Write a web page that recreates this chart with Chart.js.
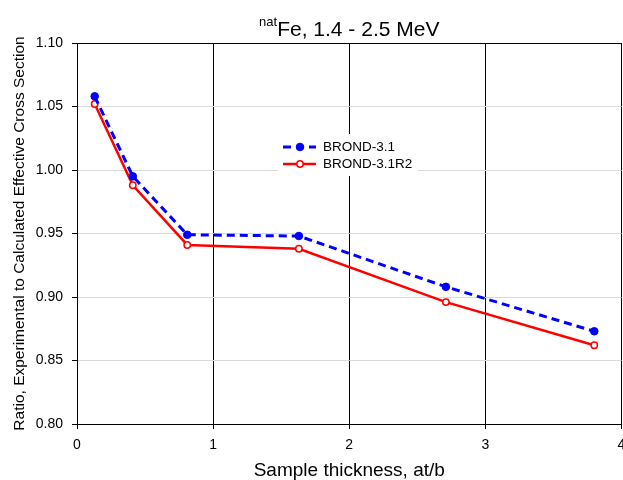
<!DOCTYPE html>
<html>
<head>
<meta charset="utf-8">
<script src="https://cdn.jsdelivr.net/npm/chart.js@4/dist/chart.umd.min.js"></script>
<style>
  html, body { margin: 0; padding: 0; background: #ffffff; }
  #wrap { width: 623px; height: 480px; }
</style>
</head>
<body>
<div id="wrap"><canvas id="c" width="623" height="480"></canvas></div>
<script>
// ---- Data ----
const thickness = [0.13, 0.41, 0.81, 1.63, 2.71, 3.80];      // at/b
const brond31   = [1.058, 0.995, 0.949, 0.948, 0.908, 0.873];
const brond31R2 = [1.052, 0.988, 0.941, 0.938, 0.896, 0.862];
const seriesNames = ['BROND-3.1', 'BROND-3.1R2'];
const titleSup = 'nat';
const titleMain = 'Fe, 1.4 - 2.5 MeV';
const xTitle = 'Sample thickness, at/b';
const yTitle = 'Ratio, Experimental to Calculated Effective Cross Section';
const xRange = [0, 4], xStep = 1;
const yRange = [0.80, 1.10], yStep = 0.05;

const FONT = "'Liberation Sans', Arial, sans-serif";
Chart.defaults.font.family = FONT;
Chart.defaults.color = '#000';

const toPts = (ys) => ys.map((y, i) => ({ x: thickness[i], y }));

const titlePlugin = {
  id: 'supTitle',
  afterDraw(chart) {
    const ctx = chart.ctx, ca = chart.chartArea;
    ctx.save();
    ctx.fillStyle = '#000';
    ctx.textBaseline = 'alphabetic';
    ctx.textAlign = 'left';
    ctx.font = '13px ' + FONT;
    const wSup = ctx.measureText(titleSup).width;
    ctx.font = '21px ' + FONT;
    const wMain = ctx.measureText(titleMain).width;
    const x0 = (ca.left + ca.right) / 2 - (wSup + wMain) / 2;
    ctx.font = '13px ' + FONT;
    ctx.fillText(titleSup, x0, 26);
    ctx.font = '21px ' + FONT;
    ctx.fillText(titleMain, x0 + wSup, 36);
    ctx.restore();
  }
};

const legendPlugin = {
  id: 'boxLegend',
  afterDraw(chart) {
    const ctx = chart.ctx;
    const bx = 278, by = 134, bw = 140, bh = 42;
    ctx.save();
    ctx.fillStyle = '#fff';
    ctx.fillRect(bx, by, bw, bh);
    const rows = [
      { y: 147, ds: chart.data.datasets[0] },
      { y: 164, ds: chart.data.datasets[1] }
    ];
    rows.forEach(r => {
      const ds = r.ds;
      ctx.strokeStyle = ds.borderColor;
      ctx.lineWidth = ds.borderWidth;
      ctx.setLineDash(ds.borderDash || []);
      ctx.beginPath();
      ctx.moveTo(283, r.y);
      ctx.lineTo(316, r.y);
      ctx.stroke();
      ctx.setLineDash([]);
      ctx.beginPath();
      ctx.arc(300, r.y, ds.pointRadius, 0, Math.PI * 2);
      ctx.fillStyle = ds.pointBackgroundColor;
      ctx.fill();
      ctx.lineWidth = ds.pointBorderWidth;
      ctx.strokeStyle = ds.pointBorderColor;
      ctx.stroke();
      ctx.fillStyle = '#000';
      ctx.font = '13.5px ' + FONT;
      ctx.textBaseline = 'middle';
      ctx.textAlign = 'left';
      ctx.fillText(ds.label, 323, r.y + 0.5);
    });
    ctx.restore();
  }
};

const near = (a, b) => Math.abs(a - b) < 1e-6;

new Chart(document.getElementById('c'), {
  type: 'scatter',
  data: {
    datasets: [
      {
        label: seriesNames[0],
        data: toPts(brond31),
        showLine: true,
        borderColor: '#0000ff',
        borderWidth: 3,
        borderDash: [8, 5],
        pointRadius: 3.8,
        pointBackgroundColor: '#0000ff',
        pointBorderColor: '#0000ff',
        pointBorderWidth: 1,
        tension: 0
      },
      {
        label: seriesNames[1],
        data: toPts(brond31R2),
        showLine: true,
        borderColor: '#ff0000',
        borderWidth: 2.5,
        pointRadius: 3.2,
        pointBackgroundColor: '#ffffff',
        pointBorderColor: '#ff0000',
        pointBorderWidth: 1.5,
        tension: 0
      }
    ]
  },
  options: {
    responsive: false,
    animation: false,
    devicePixelRatio: 1,
    layout: { autoPadding: false, padding: { top: 43, right: 1.5, left: 0, bottom: 0 } },
    plugins: {
      legend: { display: false },
      title: { display: false },
      tooltip: { enabled: false }
    },
    scales: {
      x: {
        type: 'linear',
        min: xRange[0], max: xRange[1],
        ticks: {
          stepSize: xStep,
          font: { size: 14 },
          color: '#000',
          padding: 8,
          maxRotation: 0,
          callback: (v) => String(v)
        },
        grid: {
          color: '#000',
          lineWidth: 1,
          tickColor: '#000',
          tickLength: 5,
          drawTicks: true
        },
        border: { display: true, color: '#000', width: 1 },
        title: {
          display: true,
          text: xTitle,
          font: { size: 19, lineHeight: 1 },
          color: '#000',
          padding: { top: 0, bottom: 0 }
        },
        afterFit(scale) {
          scale.height = 56;
          scale.paddingLeft = 0;
          scale.paddingRight = 0;
          if (scale._margins) { scale._margins.left = 0; scale._margins.right = 0; }
        }
      },
      y: {
        type: 'linear',
        min: yRange[0], max: yRange[1],
        ticks: {
          stepSize: yStep,
          font: { size: 14 },
          color: '#000',
          padding: 9,
          callback: (v) => Number(v).toFixed(2)
        },
        grid: {
          color: (c) => (c.tick && (near(c.tick.value, yRange[0]) || near(c.tick.value, yRange[1]))) ? '#000' : '#d9d9d9',
          lineWidth: 1,
          tickColor: '#000',
          tickLength: 5,
          drawTicks: true
        },
        border: { display: true, color: '#000', width: 1 },
        title: {
          display: true,
          text: yTitle,
          font: { size: 15.5, lineHeight: 1 },
          color: '#000',
          padding: { top: 12, bottom: 0 }
        },
        afterFit(scale) {
          scale.width = 77;
          scale.paddingTop = 0;
          scale.paddingBottom = 0;
          if (scale._margins) { scale._margins.top = 0; scale._margins.bottom = 0; }
        }
      }
    }
  },
  plugins: [titlePlugin, legendPlugin]
});
</script>
</body>
</html>
